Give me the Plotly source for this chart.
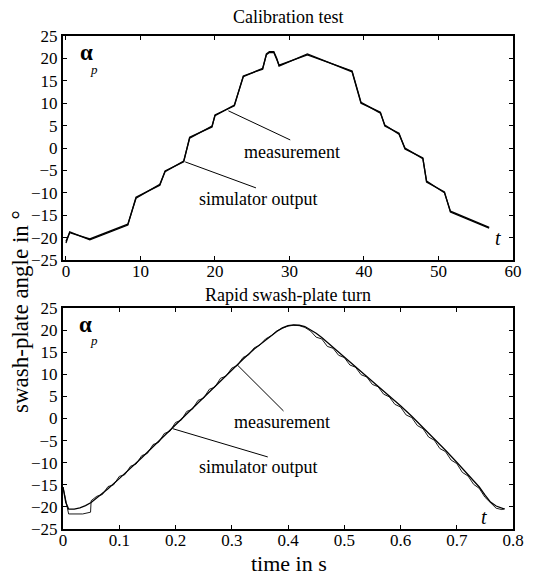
import plotly.graph_objects as go

# ---- Calibration test (upper panel) ----
cal_t = [0, 0.5, 3.2, 8.3, 9.4, 12.6, 13.3, 15.8, 16.6, 19.6, 20.0, 22.6, 23.8,
         26.4, 26.9, 27.3, 27.9, 28.3, 28.6, 32.4, 38.4, 39.6, 42.2, 42.8, 44.7,
         45.5, 47.9, 48.4, 50.8, 51.6, 56.8]
cal_meas = [-21.2, -18.7, -20.5, -17.2, -11.0, -8.3, -5.1, -3.1, 2.4, 4.7, 7.4,
            9.4, 16.1, 17.6, 21.0, 21.5, 21.5, 20.0, 18.3, 21.0, 17.0, 10.0, 8.0,
            4.9, 3.3, -0.2, -2.2, -7.6, -9.8, -14.3, -17.9]
cal_sim = [-20.8, -18.9, -20.3, -17.0, -11.2, -8.1, -5.3, -2.9, 2.2, 4.9, 7.2,
           9.6, 15.9, 17.8, 20.8, 21.3, 21.3, 19.8, 18.5, 20.8, 17.2, 10.2, 7.8,
           5.1, 3.1, 0.0, -2.4, -7.4, -10.0, -14.1, -17.7]

# ---- Rapid swash-plate turn (lower panel) ----
turn_t_sim = [0, 0.005, 0.01, 0.02, 0.03, 0.04, 0.05, 0.06, 0.08, 0.10, 0.12,
              0.14, 0.16, 0.18, 0.20, 0.22, 0.24, 0.26, 0.28, 0.30, 0.32, 0.34,
              0.36, 0.38, 0.39, 0.40, 0.41, 0.42, 0.43, 0.44, 0.45, 0.46, 0.47,
              0.48, 0.50, 0.52, 0.54, 0.56, 0.58, 0.60, 0.62, 0.64, 0.66, 0.68,
              0.70, 0.72, 0.74, 0.75, 0.76, 0.77, 0.78, 0.785]
turn_sim = [-15.5, -19.0, -20.5, -20.5, -20.2, -19.7, -19.0, -18.0, -15.9,
            -13.6, -11.3, -8.9, -6.4, -3.9, -1.4, 1.1, 3.6, 6.1, 8.6, 11.0, 13.4,
            15.7, 17.8, 19.7, 20.5, 21.0, 21.2, 21.1, 20.8, 20.1, 19.3, 18.3,
            17.2, 16.2, 14.1, 11.9, 9.7, 7.5, 5.2, 2.9, 0.5, -2.0, -4.6, -7.2,
            -9.9, -12.7, -15.5, -17.3, -18.9, -19.8, -20.3, -20.5]

turn_t_meas = [0, 0.01, 0.035, 0.045, 0.049, 0.05, 0.06, 0.07, 0.08, 0.09, 0.10,
               0.11, 0.12, 0.13, 0.14, 0.15, 0.16, 0.17, 0.18, 0.19, 0.20, 0.21,
               0.22, 0.23, 0.24, 0.25, 0.26, 0.27, 0.28, 0.29, 0.30, 0.31, 0.32,
               0.33, 0.34, 0.35, 0.36, 0.37, 0.38, 0.39, 0.40, 0.41, 0.42, 0.43,
               0.44, 0.45, 0.46, 0.47, 0.48, 0.49, 0.50, 0.51, 0.52, 0.53, 0.54,
               0.55, 0.56, 0.57, 0.58, 0.59, 0.60, 0.61, 0.62, 0.63, 0.64, 0.65,
               0.66, 0.67, 0.68, 0.69, 0.70, 0.71, 0.72, 0.73, 0.74, 0.75, 0.76,
               0.77, 0.78, 0.785]
turn_meas = [-15.5, -21.6, -21.6, -21.3, -21.2, -18.6, -17.6, -17.2, -15.4, -15.0,
             -13.1, -12.7, -10.8, -10.3, -8.4, -7.9, -5.9, -5.4, -3.4, -2.9, -0.9,
             -0.4, 1.6, 2.1, 4.1, 4.6, 6.6, 7.1, 9.1, 9.6, 11.4, 12.0, 13.8, 14.4,
             16.0, 16.6, 18.0, 18.7, 19.8, 20.4, 20.9, 21.1, 21.0, 20.6, 19.8,
             18.4, 18.0, 16.3, 15.9, 14.3, 13.8, 12.1, 11.6, 9.9, 9.4, 7.7, 7.2,
             5.5, 4.9, 3.2, 2.6, 0.8, 0.2, -1.6, -2.3, -4.2, -4.9, -6.8, -7.5,
             -9.4, -10.2, -12.2, -13.0, -14.9, -15.8, -17.8, -19.1, -20.3, -20.6,
             -20.4]

y_ticks = [25, 20, 15, 10, 5, 0, -5, -10, -15, -20, -25]
cal_x_ticks = [0, 10, 20, 30, 40, 50, 60]
turn_x_ticks = [0, 0.1, 0.2, 0.3, 0.4, 0.5, 0.6, 0.7, 0.8]

SERIF = "Liberation Serif"
INK = "black"

fig = go.Figure()
fig.add_trace(go.Scatter(x=cal_t, y=cal_sim, mode="lines",
                         line=dict(color=INK, width=1.3),
                         xaxis="x", yaxis="y", name="simulator output"))
fig.add_trace(go.Scatter(x=cal_t, y=cal_meas, mode="lines",
                         line=dict(color=INK, width=1.3),
                         xaxis="x", yaxis="y", name="measurement"))
fig.add_trace(go.Scatter(x=turn_t_sim, y=turn_sim, mode="lines",
                         line=dict(color=INK, width=1.3),
                         xaxis="x2", yaxis="y2", name="simulator output"))
fig.add_trace(go.Scatter(x=turn_t_meas, y=turn_meas, mode="lines",
                         line=dict(color=INK, width=0.9),
                         xaxis="x2", yaxis="y2", name="measurement"))

axis_common = dict(
    showgrid=False, zeroline=False, showline=True, linecolor=INK, linewidth=2,
    mirror="ticks", ticks="inside", ticklen=4, tickwidth=1, tickcolor=INK,
    tickfont=dict(family=SERIF, size=17, color=INK),
)
x_extra = dict(ticklabelstandoff=-5)

fig.update_layout(
    width=536, height=575,
    margin=dict(l=63, r=14, t=36, b=46),
    paper_bgcolor="white", plot_bgcolor="white",
    font=dict(family=SERIF, color=INK),
    showlegend=False,
    xaxis=dict(axis_common, **x_extra, domain=[0, 1], range=[-0.4, 60],
               tickvals=cal_x_ticks, anchor="y"),
    yaxis=dict(axis_common, domain=[0.5456, 1], range=[-25, 25],
               tickvals=y_ticks, anchor="x"),
    xaxis2=dict(axis_common, **x_extra, domain=[0, 1], range=[0, 0.8],
                tickvals=turn_x_ticks, anchor="y2"),
    yaxis2=dict(axis_common, domain=[0, 0.4483], range=[-25, 25],
                tickvals=y_ticks, anchor="x2"),
)

# leader lines from the curves to their labels
leaders = [
    ("x", "y", 21.8, 8.3, 30.1, 1.8),
    ("x", "y", 16.0, -3.1, 25.5, -8.9),
    ("x2", "y2", 0.31, 12.1, 0.392, 1.7),
    ("x2", "y2", 0.195, -2.3, 0.364, -8.7),
]
for xr, yr, x0, y0, x1, y1 in leaders:
    fig.add_shape(type="line", xref=xr, yref=yr, x0=x0, y0=y0, x1=x1, y1=y1,
                  line=dict(color=INK, width=1))

label_font = dict(family=SERIF, size=18, color=INK)
texts = [
    ("x", "y", 30.4, -0.9, "measurement"),
    ("x", "y", 25.8, -11.4, "simulator output"),
    ("x2", "y2", 0.39, -0.8, "measurement"),
    ("x2", "y2", 0.347, -11.0, "simulator output"),
]
for xr, yr, x, y, s in texts:
    fig.add_annotation(xref=xr, yref=yr, x=x, y=y, text=s, showarrow=False,
                       xanchor="center", yanchor="middle", font=label_font)

# angle symbol and time marker inside each panel
markers = [
    ("x", "y", 1.6, 21.3, 3.0, 17.6, 58.0, -20.1),
    ("x2", "y2", 0.025, 21.3, 0.045, 17.6, 0.748, -22.3),
]
for xr, yr, xa, ya, xp, yp, xt, yt in markers:
    fig.add_annotation(xref=xr, yref=yr, x=xa, y=ya, text="<b>α</b>",
                       showarrow=False, xanchor="left", yanchor="middle",
                       font=dict(family=SERIF, size=23, color=INK))
    fig.add_annotation(xref=xr, yref=yr, x=xp, y=yp, text="<i>p</i>",
                       showarrow=False, xanchor="left", yanchor="middle",
                       font=dict(family=SERIF, size=13, color=INK))
    fig.add_annotation(xref=xr, yref=yr, x=xt, y=yt, text="<i>t</i>",
                       showarrow=False, xanchor="center", yanchor="middle",
                       font=dict(family=SERIF, size=20, color=INK))

# panel titles and shared axis titles
title_font = dict(family=SERIF, size=18, color=INK)
fig.add_annotation(xref="paper", yref="paper", x=0.5, y=1.0385,
                   text="Calibration test", showarrow=False,
                   xanchor="center", yanchor="middle", font=title_font)
fig.add_annotation(xref="paper", yref="paper", x=0.5, y=0.4746,
                   text="Rapid swash-plate turn", showarrow=False,
                   xanchor="center", yanchor="middle", font=title_font)
fig.add_annotation(xref="paper", yref="paper", x=-0.0959, y=0.442,
                   text="swash-plate angle in °", textangle=-90, showarrow=False,
                   xanchor="center", yanchor="middle",
                   font=dict(family=SERIF, size=23, color=INK))
fig.add_annotation(xref="paper", yref="paper", x=0.503, y=-0.069,
                   text="time in s", showarrow=False,
                   xanchor="center", yanchor="middle",
                   font=dict(family=SERIF, size=22, color=INK))

fig.write_html("out.html")
